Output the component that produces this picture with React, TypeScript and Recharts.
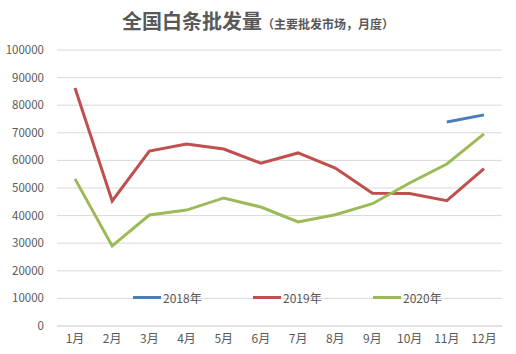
import React from "react";
import { LineChart, Line, XAxis, YAxis, CartesianGrid } from "recharts";

const months = ["1月", "2月", "3月", "4月", "5月", "6月", "7月", "8月", "9月", "10月", "11月", "12月"];
const y2018: (number | null)[] = [null, null, null, null, null, null, null, null, null, null, 73900, 76500];
const y2019 = [86200, 45300, 63400, 65900, 64100, 59000, 62700, 57200, 48100, 48000, 45400, 57000];
const y2020 = [53300, 29000, 40200, 42000, 46400, 43100, 37700, 40300, 44300, 51800, 58700, 69600];
const yTicks = [0, 10000, 20000, 30000, 40000, 50000, 60000, 70000, 80000, 90000, 100000];

const series = [
  { key: "y2018", name: "2018年", color: "#4a7ebb" },
  { key: "y2019", name: "2019年", color: "#c0504d" },
  { key: "y2020", name: "2020年", color: "#9bbb59" },
];

const data = months.map((m, i) => ({ month: m, y2018: y2018[i], y2019: y2019[i], y2020: y2020[i] }));

const FONT = "'Noto Sans CJK SC', 'Noto Sans', sans-serif";

function LegendBox() {
  return (
    <div
      style={{
        position: "absolute",
        top: 289,
        left: 133,
        display: "flex",
        fontFamily: FONT,
        fontSize: 12,
        color: "#595959",
      }}
    >
      {series.map((s) => (
        <div key={s.key} style={{ display: "flex", alignItems: "center", width: 120 }}>
          <span style={{ display: "inline-block", width: 28, height: 3, background: s.color, marginRight: 2 }} />
          <span>{s.name}</span>
        </div>
      ))}
    </div>
  );
}

export default function App() {
  return (
    <div style={{ position: "fixed", left: 0, top: 0, width: 516, height: 354, background: "#fff" }}>
      <div
        style={{
          position: "absolute",
          top: 6,
          left: 0,
          width: 516,
          textAlign: "center",
          fontFamily: FONT,
          color: "#595959",
          fontWeight: 700,
        }}
      >
        <span style={{ fontSize: 20 }}>全国白条批发量</span>
        <span style={{ fontSize: 12 }}>（主要批发市场，月度）</span>
      </div>
      <LineChart width={516} height={354} data={data} margin={{ top: 50, right: 14, bottom: 8, left: 0 }}>
        <CartesianGrid vertical={false} stroke="#d9d9d9" />
        <XAxis
          dataKey="month"
          axisLine={{ stroke: "#d9d9d9" }}
          tickLine={false}
          tick={{ fontSize: 12, fill: "#595959", fontFamily: FONT }}
          height={20}
          interval={0}
          padding={{ left: 18, right: 18 }}
        />
        <YAxis
          domain={[0, 100000]}
          ticks={yTicks}
          axisLine={false}
          tickLine={false}
          width={57}
          dx={-5}
          tick={{ fontSize: 11.5, fill: "#595959", fontFamily: FONT }}
        />
        {series.map((s) => (
          <Line
            key={s.key}
            type="linear"
            dataKey={s.key}
            name={s.name}
            stroke={s.color}
            strokeWidth={3}
            dot={false}
            isAnimationActive={false}
          />
        ))}
      </LineChart>
      <LegendBox />
    </div>
  );
}
